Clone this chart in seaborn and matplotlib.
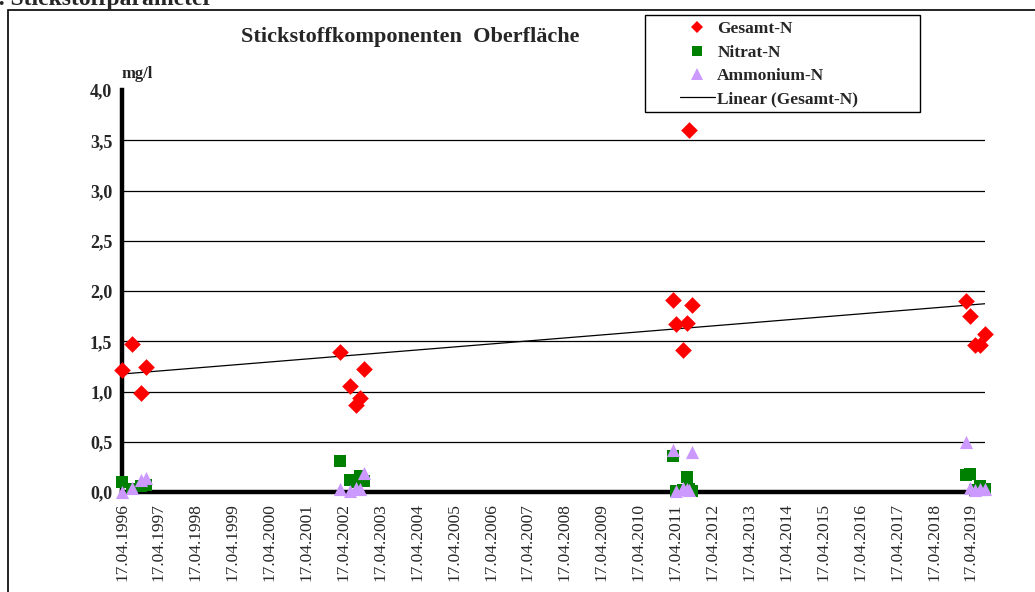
import matplotlib
matplotlib.use("Agg")
import matplotlib.pyplot as plt
import matplotlib.dates as mdates
from matplotlib.lines import Line2D
from matplotlib.patches import Rectangle
from matplotlib.ticker import FuncFormatter
import seaborn as sns
import numpy as np
import pandas as pd

# Probenahmetermine
dates = ['1996-04-17', '1996-07-25', '1996-10-22', '1996-12-11',
         '2002-03-14', '2002-06-21', '2002-08-20', '2002-09-28', '2002-11-07',
         '2011-03-23', '2011-04-21', '2011-06-30', '2011-08-08', '2011-08-28', '2011-09-27',
         '2019-02-28', '2019-04-09', '2019-05-28', '2019-07-17', '2019-09-04']

gesamt_n = [1.21, 1.47, 0.99, 1.24,
            1.39, 1.05, 0.87, 0.94, 1.22,
            1.91, 1.67, 1.41, 1.68, 3.60, 1.86,
            1.90, 1.75, 1.46, 1.46, 1.57]
nitrat_n = [0.10, 0.03, 0.06, 0.07,
            0.31, 0.12, 0.10, 0.16, 0.11,
            0.36, 0.01, 0.02, 0.15, 0.03, 0.01,
            0.17, 0.18, 0.02, 0.06, 0.03]
ammonium_n = [0.00, 0.04, 0.12, 0.14,
              0.03, 0.01, 0.04, 0.03, 0.19,
              0.42, 0.01, 0.04, 0.03, 0.02, 0.40,
              0.50, 0.04, 0.02, 0.03, 0.03]

series_names = ['Gesamt-N', 'Nitrat-N', 'Ammonium-N']
colors = {'Gesamt-N': '#FF0000', 'Nitrat-N': '#008000', 'Ammonium-N': '#CC99FF'}
markers = {'Gesamt-N': 'D', 'Nitrat-N': 's', 'Ammonium-N': '^'}
sizes = {'Gesamt-N': 72, 'Nitrat-N': 66, 'Ammonium-N': 90}

tick_years = list(range(1996, 2020))
y_ticks = [0.0, 0.5, 1.0, 1.5, 2.0, 2.5, 3.0, 3.5, 4.0]

x_num = mdates.date2num(pd.to_datetime(dates))
df = pd.DataFrame({
    'x': np.tile(x_num, 3),
    'Wert': gesamt_n + nitrat_n + ammonium_n,
    'Komponente': np.repeat(series_names, len(dates)),
})

sns.set_style("white")
plt.rcParams['font.family'] = ['Liberation Serif', 'DejaVu Serif']

W, H = 1035, 592
fig = plt.figure(figsize=(W / 100, H / 100), dpi=100)
ax = fig.add_axes([122 / W, 1 - 492 / H, (985 - 122) / W, (492 - 90) / H])

# outer frame of the embedded chart
fig.patches.append(Rectangle((8 / W, -0.2), 1.2, 1.2 - 10 / H, transform=fig.transFigure,
                             fill=False, edgecolor='black', linewidth=1.2))
fig.text(-0.013, 1.0, "2. Stickstoffparameter", fontsize=17, fontweight='bold', va='center', ha='left')

# gridlines
for yv in y_ticks[1:-1]:
    ax.axhline(yv, color='black', linewidth=0.9, zorder=1)

for name in series_names:
    sub = df[df['Komponente'] == name]
    sns.scatterplot(data=sub, x='x', y='Wert', marker=markers[name], color=colors[name],
                    s=sizes[name], linewidth=0, ax=ax, zorder=3, clip_on=False, legend=False)

# linear trend of Gesamt-N
sns.regplot(x=x_num, y=np.array(gesamt_n), scatter=False, ci=None, ax=ax,
            line_kws=dict(color='black', linewidth=0.9, zorder=2))

ax.set_xlim(x_num[0], x_num[-1])
ax.set_ylim(0, 4.0)
tick_pos = mdates.date2num(pd.to_datetime([f'{y}-04-17' for y in tick_years]))
ax.set_xticks(tick_pos)
ax.set_xticklabels([f'17.04.{y}' for y in tick_years], rotation=90, fontsize=12.5)
ax.set_yticks(y_ticks)
ax.yaxis.set_major_formatter(FuncFormatter(lambda v, p: f'{v:.1f}'.replace('.', ',')))
for lab in ax.get_yticklabels():
    lab.set_fontweight('bold')
    lab.set_fontsize(13)
ax.set_xlabel('')
ax.set_ylabel('')

for s in ['top', 'right']:
    ax.spines[s].set_visible(False)
for s in ['left', 'bottom']:
    ax.spines[s].set_linewidth(3.2)
    ax.spines[s].set_color('black')
ax.spines['bottom'].set_bounds(x_num[0], tick_pos[-1])
ax.tick_params(axis='both', direction='out', length=5, width=3.0, color='black', pad=3)
ax.tick_params(axis='y', pad=2)

ax.text(0.0, 1.02, 'mg/l', transform=ax.transAxes, fontsize=12, fontweight='bold',
        ha='left', va='bottom')
fig.text(410 / W, 1 - 37 / H, 'Stickstoffkomponenten  Oberfläche', fontsize=16,
         fontweight='bold', ha='center', va='center')

# legend: frame drawn separately to match the wide box
fig.patches.append(Rectangle((645 / W, 1 - 112 / H), 275 / W, 97 / H, transform=fig.transFigure,
                             fill=False, edgecolor='black', linewidth=1.0))
handles = [Line2D([], [], marker=markers[n], color=colors[n], linestyle='none',
                  markersize={'Gesamt-N': 6.5, 'Nitrat-N': 7.5, 'Ammonium-N': 8.5}[n], markeredgewidth=0)
           for n in series_names]
handles.append(Line2D([], [], color='black', linewidth=0.9))
fig.legend(handles, series_names + ['Linear (Gesamt-N)'], loc='upper left',
           bbox_to_anchor=(680 / W, 1 - 21 / H), frameon=False,
           prop=dict(weight='bold', size=12.5),
           labelspacing=0.42, handlelength=2.0, handletextpad=0.15, borderpad=0.0,
           borderaxespad=0)

fig.savefig('out.png', dpi=100)
